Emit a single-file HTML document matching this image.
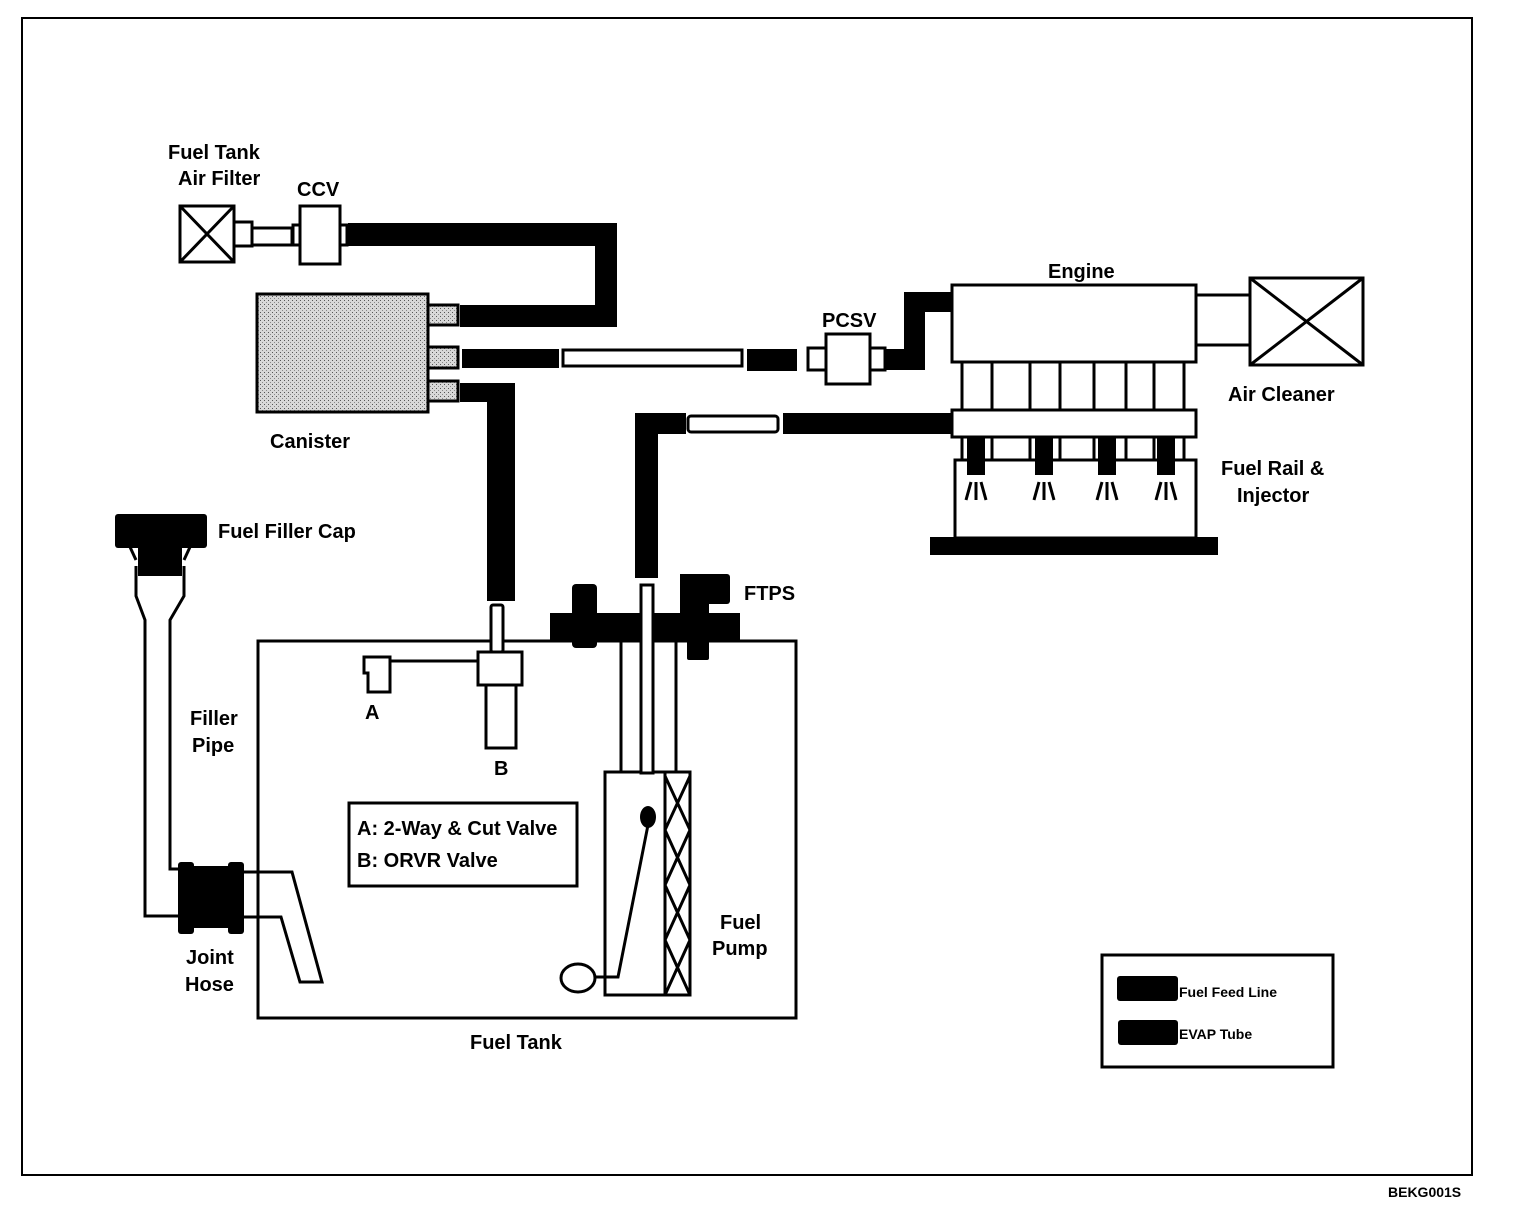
<!DOCTYPE html>
<html><head><style>
html,body{margin:0;padding:0;background:#fff;}
svg{display:block;}
text{font-family:"Liberation Sans",Arial,sans-serif;font-size:20px;font-weight:bold;fill:#000;}
</style></head><body>
<svg width="1520" height="1214" viewBox="0 0 1520 1214" xmlns="http://www.w3.org/2000/svg">
<defs>
<pattern id="stip" width="4" height="4" patternUnits="userSpaceOnUse">
<rect width="4" height="4" fill="#d8d8d8"/><rect x="0" y="0" width="1" height="1" fill="#555"/><rect x="2" y="2" width="1" height="1" fill="#888"/>
</pattern>
</defs>
<g fill="none" stroke="#000" stroke-width="3">
<rect x="22" y="18" width="1450" height="1157" stroke-width="2"/>
<rect x="180" y="206" width="54" height="56"/>
<line x1="180" y1="206" x2="234" y2="262"/><line x1="234" y1="206" x2="180" y2="262"/>
<rect x="234" y="222" width="18" height="24"/>
<rect x="252" y="228" width="40" height="17"/>
<rect x="293" y="225" width="7" height="20"/>
<rect x="300" y="206" width="40" height="58"/>
<rect x="340" y="225" width="7" height="20"/>
</g>
<g fill="#000">
<rect x="348" y="223" width="269" height="23"/>
<rect x="595" y="223" width="22" height="104"/>
<rect x="460" y="305" width="157" height="22"/>
<rect x="462" y="349" width="97" height="19"/>
<rect x="747" y="349" width="50" height="22"/>
<rect x="460" y="383" width="55" height="19"/>
<rect x="487" y="383" width="28" height="218"/>
<rect x="885" y="349" width="40" height="21"/>
<rect x="904" y="292" width="21" height="78"/>
<rect x="904" y="292" width="49" height="20"/>
<rect x="783" y="413" width="170" height="21"/>
<rect x="635" y="413" width="51" height="21"/>
<rect x="635" y="413" width="23" height="165"/>
</g>
<g fill="none" stroke="#000" stroke-width="3">
<rect x="563" y="350" width="179" height="16"/>
<rect x="688" y="416" width="90" height="16" rx="3"/>
<rect x="808" y="348" width="18" height="22"/>
<rect x="826" y="334" width="44" height="50"/>
<rect x="870" y="348" width="15" height="22"/>
</g>
<rect x="257" y="294" width="171" height="118" fill="url(#stip)" stroke="#000" stroke-width="3"/>
<g fill="url(#stip)" stroke="#000" stroke-width="3">
<rect x="428" y="305" width="30" height="20"/>
<rect x="428" y="347" width="30" height="21"/>
<rect x="428" y="381" width="30" height="20"/>
</g>
<g fill="none" stroke="#000" stroke-width="3">
<rect x="952" y="285" width="244" height="77"/>
<line x1="1196" y1="295" x2="1250" y2="295"/><line x1="1196" y1="345" x2="1250" y2="345"/>
<rect x="1250" y="278" width="113" height="87"/>
<line x1="1250" y1="278" x2="1363" y2="365"/><line x1="1363" y1="278" x2="1250" y2="365"/>
<line x1="962" y1="362" x2="962" y2="410"/><line x1="992" y1="362" x2="992" y2="410"/>
<line x1="1030" y1="362" x2="1030" y2="410"/><line x1="1060" y1="362" x2="1060" y2="410"/>
<line x1="1094" y1="362" x2="1094" y2="410"/><line x1="1126" y1="362" x2="1126" y2="410"/>
<line x1="1154" y1="362" x2="1154" y2="410"/><line x1="1184" y1="362" x2="1184" y2="410"/>
<rect x="952" y="410" width="244" height="27"/>
<line x1="962" y1="437" x2="962" y2="460"/><line x1="992" y1="437" x2="992" y2="460"/>
<line x1="1030" y1="437" x2="1030" y2="460"/><line x1="1060" y1="437" x2="1060" y2="460"/>
<line x1="1094" y1="437" x2="1094" y2="460"/><line x1="1126" y1="437" x2="1126" y2="460"/>
<line x1="1154" y1="437" x2="1154" y2="460"/><line x1="1184" y1="437" x2="1184" y2="460"/>
<rect x="955" y="460" width="241" height="78"/>
</g>
<g fill="#000">
<rect x="967" y="437" width="18" height="38"/><rect x="1035" y="437" width="18" height="38"/>
<rect x="1098" y="437" width="18" height="38"/><rect x="1157" y="437" width="18" height="38"/>
<rect x="930" y="537" width="288" height="18"/>
</g>
<g stroke="#000" stroke-width="3">
<path d="M971 482 L966 500 M976 482 L976 500 M981 482 L986 500"/>
<path d="M1039 482 L1034 500 M1044 482 L1044 500 M1049 482 L1054 500"/>
<path d="M1102 482 L1097 500 M1107 482 L1107 500 M1112 482 L1117 500"/>
<path d="M1161 482 L1156 500 M1166 482 L1166 500 M1171 482 L1176 500"/>
</g>
<g fill="#000">
<rect x="115" y="514" width="92" height="34" rx="3"/>
<rect x="138" y="546" width="44" height="30"/>
<rect x="182" y="866" width="62" height="62"/>
<rect x="178" y="862" width="16" height="72" rx="3"/>
<rect x="228" y="862" width="16" height="72" rx="3"/>
</g>
<g fill="none" stroke="#000" stroke-width="3">
<path d="M130 547 L136 560"/><path d="M190 547 L184 560"/>
<path d="M136 566 L136 596 L145 620 L145 916 L182 916"/>
<path d="M184 566 L184 596 L170 620 L170 869 L182 869"/>
<path d="M244 872 L292 872 L322 982 L300 982 L281 917 L244 917"/>
<rect x="258" y="641" width="538" height="377"/>
<rect x="491" y="605" width="12" height="47" rx="2" fill="#fff"/>
<rect x="478" y="652" width="44" height="33" fill="#fff"/>
<rect x="486" y="685" width="30" height="63" fill="#fff"/>
<path d="M364 657 L390 657 L390 692 L368 692 L368 673 L364 673 Z"/>
<line x1="390" y1="661" x2="478" y2="661"/>
<rect x="349" y="803" width="228" height="83"/>
<line x1="621" y1="642" x2="621" y2="772"/>
<line x1="676" y1="642" x2="676" y2="772"/>
<rect x="605" y="772" width="85" height="223"/>
<line x1="665" y1="772" x2="665" y2="995"/>
<path d="M665 776 L690 830 M690 776 L665 830 M665 830 L690 885 M690 830 L665 885 M665 885 L690 940 M690 885 L665 940 M665 940 L690 995 M690 940 L665 995"/>
<ellipse cx="578" cy="978" rx="17" ry="14"/>
<path d="M595 977 L618 977 L648 825"/>
<rect x="1102" y="955" width="231" height="112"/>
</g>
<g fill="#000">
<rect x="550" y="613" width="190" height="29"/>
<rect x="572" y="584" width="25" height="64" rx="4"/>
<rect x="680" y="574" width="50" height="30" rx="3"/>
<rect x="680" y="574" width="28" height="60"/>
<rect x="687" y="600" width="22" height="60" rx="2"/>
<ellipse cx="648" cy="817" rx="8" ry="11"/>
<rect x="1117" y="976" width="61" height="25" rx="3"/>
<rect x="1118" y="1020" width="60" height="25" rx="3"/>
</g>
<rect x="641" y="585" width="12" height="188" fill="#fff" stroke="#000" stroke-width="3"/>
<text x="168" y="159">Fuel Tank</text>
<text x="178" y="185">Air Filter</text>
<text x="297" y="196">CCV</text>
<text x="270" y="448">Canister</text>
<text x="1048" y="278">Engine</text>
<text x="822" y="327">PCSV</text>
<text x="1228" y="401">Air Cleaner</text>
<text x="1221" y="475">Fuel Rail &amp;</text>
<text x="1237" y="502">Injector</text>
<text x="218" y="538">Fuel Filler Cap</text>
<text x="744" y="600">FTPS</text>
<text x="190" y="725">Filler</text>
<text x="192" y="752">Pipe</text>
<text x="186" y="964">Joint</text>
<text x="185" y="991">Hose</text>
<text x="470" y="1049">Fuel Tank</text>
<text x="720" y="929">Fuel</text>
<text x="712" y="955">Pump</text>
<text x="365" y="719">A</text>
<text x="494" y="775">B</text>
<text x="357" y="835">A: 2-Way &amp; Cut Valve</text>
<text x="357" y="867">B: ORVR Valve</text>
<text x="1179" y="997" style="font-size:14px">Fuel Feed Line</text>
<text x="1179" y="1039" style="font-size:14px">EVAP Tube</text>
<text x="1388" y="1197" style="font-size:14px">BEKG001S</text>
</svg>
</body></html>
